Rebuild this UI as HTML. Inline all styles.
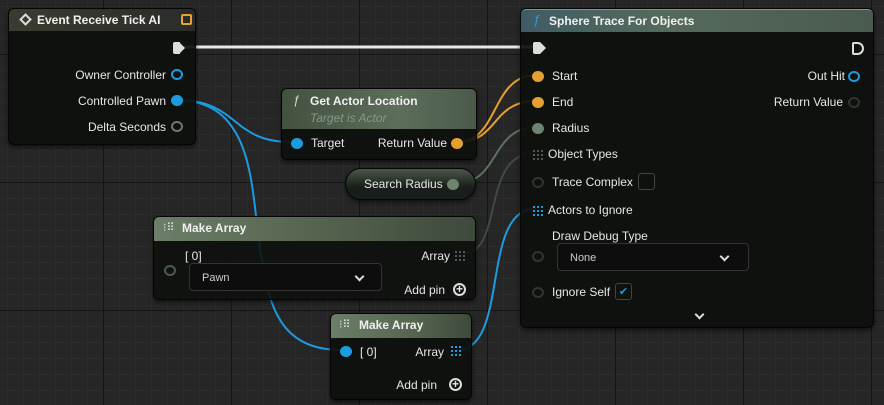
<!DOCTYPE html>
<html><head><meta charset="utf-8"><style>
*{box-sizing:border-box;margin:0;padding:0}
body{width:884px;height:405px;overflow:hidden;background:#262626;font-family:"Liberation Sans",sans-serif;color:#e6e6e6;position:relative;
background-image:linear-gradient(#151515 1px,transparent 1px),linear-gradient(90deg,#151515 1px,transparent 1px),linear-gradient(#2c2c2c 1px,transparent 1px),linear-gradient(90deg,#2c2c2c 1px,transparent 1px);
background-size:128px 128px,128px 128px,16px 16px,16px 16px;background-position:0 54px,103px 0,0 6px,7px 0}
.n{position:absolute;background:rgba(14,16,14,.93);border-radius:6px;border:1px solid #050505;box-shadow:0 2px 4px rgba(0,0,0,.6)}
.h{position:absolute;left:0;right:0;top:0;border-radius:5px 5px 0 0;font-weight:bold;font-size:12px;color:#f0f0f0;padding-left:28px}
.t{position:absolute;font-size:12px;white-space:nowrap}
.pin{position:absolute;width:12px;height:11px;border-radius:50%}
svg{position:absolute;left:0;top:0}
.dd{position:absolute;border:1px solid #333;border-radius:4px;background:#0c0d0c;font-size:11px;color:#ccc;padding-left:12px;line-height:28px}
.chev{position:absolute;width:7px;height:7px;border-right:2px solid #ddd;border-bottom:2px solid #ddd;transform:rotate(45deg)}
</style></head><body>
<svg width="884" height="405" style="z-index:0">
<g fill="none" stroke-width="2">
<path d="M176 100 C240 100 230 142 291 142" stroke="#1d9be0"/>
<path d="M176 100 C260 100 250 200 262 260 C270 320 290 350 341 350" stroke="#1d9be0"/>
<path d="M457 142 C500 142 490 75 537 75" stroke="#e6a02e"/>
<path d="M457 142 C500 142 490 101 537 101" stroke="#e6a02e"/>
<path d="M457 183 C500 183 490 127 537 127" stroke="#5e7060"/>
<path d="M462 254 C505 254 480 153 535 153" stroke="#3d4a45"/>
<path d="M457 350 C510 350 480 209 535 209" stroke="#1d9be0"/>
</g>
<path d="M183 47 L535 47" stroke="#e8e8e8" stroke-width="3"/>
</svg>

<!-- Event node -->
<div class="n" style="left:8px;top:8px;width:188px;height:137px;z-index:1">
<div class="h" style="height:22px;line-height:22px;background:linear-gradient(90deg,#3b3b30,#2a2c2a);padding-left:28px">Event Receive Tick AI</div>
<div style="position:absolute;left:12px;top:6px;width:9px;height:9px;border:2px solid #ddd;transform:rotate(45deg)"></div>
<div style="position:absolute;left:172px;top:5px;width:11px;height:11px;border:2px solid #e8a232;border-radius:2px"></div>
<div style="position:absolute;left:170px;top:33px;width:0;height:0;border-top:6px solid transparent;border-bottom:6px solid transparent;border-left:6px solid #ddd"></div>
<div style="position:absolute;left:164px;top:33px;width:7px;height:12px;background:#ddd;border-radius:2px 0 0 2px"></div>
<div class="t" style="right:29px;top:59px">Owner Controller</div><div class="pin" style="left:162px;top:60px;border:2px solid #1d9be0"></div>
<div class="t" style="right:29px;top:85px">Controlled Pawn</div><div class="pin" style="left:162px;top:86px;background:#1d9be0"></div>
<div class="t" style="right:29px;top:111px">Delta Seconds</div><div class="pin" style="left:162px;top:112px;border:2px solid #687a6c"></div>
</div>

<!-- Get Actor Location -->
<div class="n" style="left:281px;top:88px;width:196px;height:72px;z-index:1">
<div class="h" style="height:40px;background:linear-gradient(90deg,#43513f,#5d6e5b 60%,#4b5a4a);padding-top:5px">Get Actor Location<div style="font-weight:normal;font-style:italic;color:#86978a;font-size:12px;margin-top:3px">Target is Actor</div></div>
<div class="t" style="left:11px;top:4px;font-style:italic;color:#ddd">ƒ</div>
<div class="pin" style="left:9px;top:49px;background:#1d9be0"></div><div class="t" style="left:29px;top:47px">Target</div>
<div class="t" style="right:29px;top:47px">Return Value</div><div class="pin" style="left:169px;top:49px;background:#e6a02e"></div>
</div>

<!-- Search Radius -->
<div class="n" style="left:345px;top:168px;width:131px;height:32px;border-radius:16px;background:linear-gradient(#4a5848,#1a1e1a 60%);z-index:1">
<div class="t" style="left:18px;top:8px">Search Radius</div><div class="pin" style="left:101px;top:10px;background:#6e8470"></div>
</div>

<!-- Make Array 1 -->
<div class="n" style="left:153px;top:216px;width:323px;height:84px;z-index:1;background:rgba(14,16,14,.88)">
<div class="h" style="height:24px;line-height:22px;background:linear-gradient(90deg,#6c7e68,#55644f 50%,#3e4a3c)">Make Array</div>
<div class="t" style="left:9px;top:4px;font-size:11px;color:#ddd">⁝⠿</div>
<div class="t" style="left:31px;top:32px">[ 0]</div>
<div class="pin" style="left:10px;top:48px;border:2px solid #4a5a4e"></div>
<div class="dd" style="left:35px;top:46px;width:193px;height:28px">Pawn<div class="chev" style="right:18px;top:9px"></div></div>
<div class="t" style="right:25px;top:32px">Array</div>
<div style="position:absolute;left:301px;top:34px;width:10px;height:10px;background:repeating-linear-gradient(90deg,#667 0 2px,transparent 2px 4px);opacity:.8;-webkit-mask:repeating-linear-gradient(#000 0 2px,transparent 2px 4px)"></div>
<div class="t" style="right:30px;top:66px">Add pin</div>
<div style="position:absolute;left:299px;top:66px;width:13px;height:13px;border:2px solid #ddd;border-radius:50%;font-size:12px;line-height:9px;text-align:center;font-weight:bold">+</div>
</div>

<!-- Make Array 2 -->
<div class="n" style="left:330px;top:313px;width:142px;height:87px;z-index:1">
<div class="h" style="height:24px;line-height:22px;background:linear-gradient(90deg,#6c7e68,#55644f 60%,#3e4a3c)">Make Array</div>
<div class="t" style="left:8px;top:4px;font-size:11px;color:#ddd">⁝⠿</div>
<div class="pin" style="left:9px;top:32px;background:#1d9be0"></div><div class="t" style="left:29px;top:31px">[ 0]</div>
<div class="t" style="right:27px;top:31px">Array</div>
<div style="position:absolute;left:120px;top:32px;width:10px;height:10px;background:repeating-linear-gradient(90deg,#1d9be0 0 2px,transparent 2px 4px);-webkit-mask:repeating-linear-gradient(#000 0 2px,transparent 2px 4px)"></div>
<div class="t" style="right:34px;top:64px">Add pin</div>
<div style="position:absolute;left:118px;top:64px;width:13px;height:13px;border:2px solid #ddd;border-radius:50%;font-size:12px;line-height:9px;text-align:center;font-weight:bold">+</div>
</div>

<!-- Sphere Trace -->
<div class="n" style="left:520px;top:8px;width:354px;height:320px;z-index:1">
<div class="h" style="height:23px;line-height:22px;background:linear-gradient(90deg,#3f5c66,#556a5c 40%,#4a5a50);border-top:1px solid #5aa0c0">Sphere Trace For Objects</div>
<div class="t" style="left:12px;top:3px;font-style:italic;color:#2a9be0;font-size:13px">ƒ</div>
<div style="position:absolute;left:19px;top:33px;width:0;height:0;border-top:6px solid transparent;border-bottom:6px solid transparent;border-left:6px solid #ddd"></div>
<div style="position:absolute;left:12px;top:33px;width:7px;height:12px;background:#ddd;border-radius:2px 0 0 2px"></div>
<div style="position:absolute;left:331px;top:33px;width:12px;height:13px;border:2px solid #ddd;border-radius:2px 7px 7px 2px"></div>
<div class="pin" style="left:11px;top:62px;background:#e6a02e"></div><div class="t" style="left:31px;top:60px">Start</div>
<div class="pin" style="left:11px;top:88px;background:#e6a02e"></div><div class="t" style="left:31px;top:86px">End</div>
<div class="pin" style="left:11px;top:114px;background:#6e8470"></div><div class="t" style="left:31px;top:112px">Radius</div>
<div style="position:absolute;left:12px;top:141px;width:10px;height:10px;background:repeating-linear-gradient(90deg,#555 0 2px,transparent 2px 4px);-webkit-mask:repeating-linear-gradient(#000 0 2px,transparent 2px 4px)"></div>
<div class="t" style="left:27px;top:138px">Object Types</div>
<div class="pin" style="left:11px;top:168px;border:2px solid #333"></div><div class="t" style="left:31px;top:166px">Trace Complex</div>
<div style="position:absolute;left:117px;top:164px;width:17px;height:17px;border:1px solid #444;border-radius:3px"></div>
<div style="position:absolute;left:12px;top:197px;width:10px;height:10px;background:repeating-linear-gradient(90deg,#1d9be0 0 2px,transparent 2px 4px);-webkit-mask:repeating-linear-gradient(#000 0 2px,transparent 2px 4px)"></div>
<div class="t" style="left:27px;top:194px">Actors to Ignore</div>
<div class="t" style="left:31px;top:220px">Draw Debug Type</div>
<div class="pin" style="left:11px;top:242px;border:2px solid #333"></div>
<div class="dd" style="left:36px;top:234px;width:192px;height:28px">None<div class="chev" style="right:20px;top:9px"></div></div>
<div class="pin" style="left:11px;top:278px;border:2px solid #333"></div><div class="t" style="left:31px;top:276px">Ignore Self</div>
<div style="position:absolute;left:94px;top:274px;width:17px;height:17px;border:1px solid #444;border-radius:3px;color:#1d9be0;font-size:11px;text-align:center;line-height:16px">✔</div>
<div class="chev" style="left:175px;top:302px"></div>
<div class="t" style="right:28px;top:60px">Out Hit</div><div class="pin" style="left:327px;top:62px;border:2px solid #1d9be0"></div>
<div class="t" style="right:30px;top:86px">Return Value</div><div class="pin" style="left:327px;top:88px;border:2px solid #333"></div>
</div>
</body></html>
